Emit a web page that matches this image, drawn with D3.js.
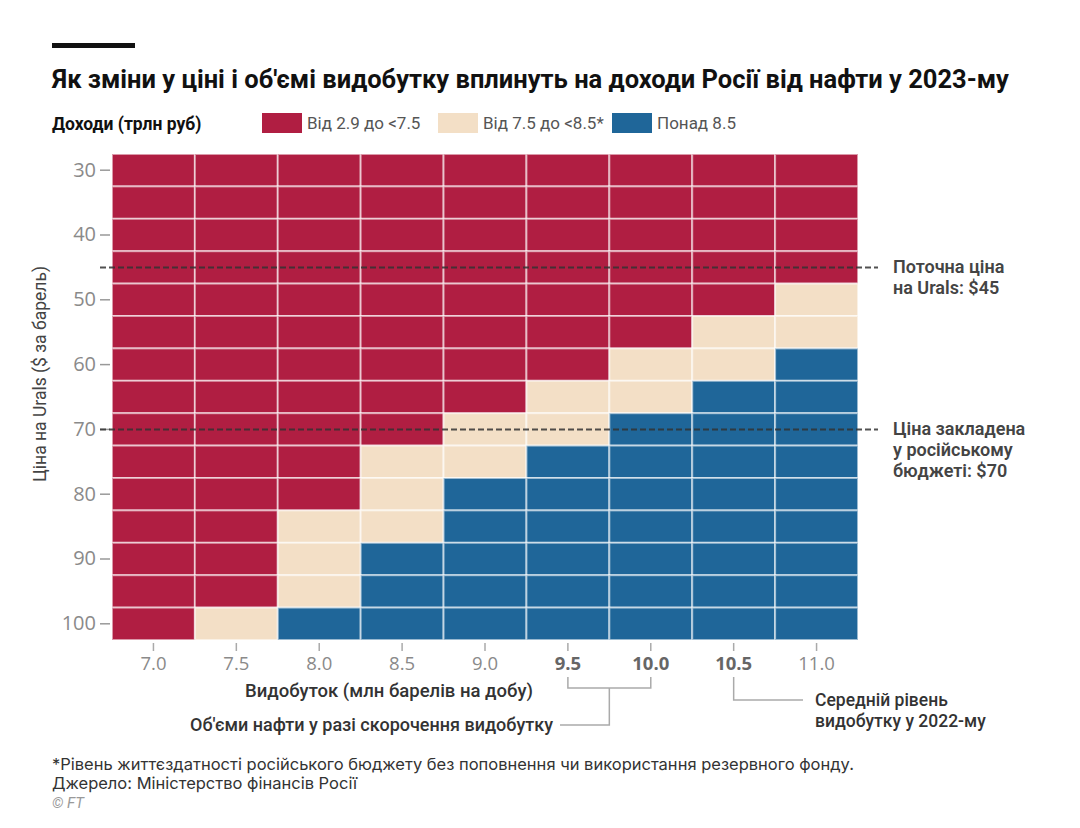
<!DOCTYPE html>
<html>
<head>
<meta charset="utf-8">
<script src="https://cdn.jsdelivr.net/npm/d3@7"></script>
<style>
  body { margin: 0; background: #fff; }
  svg { font-family: "Roboto", "Noto Sans", sans-serif; }
</style>
</head>
<body>
<div id="chart"></div>
<script>
// Volumes (mln barrels per day) and Urals price ($ per barrel)
const volumes = ["7.0", "7.5", "8.0", "8.5", "9.0", "9.5", "10.0", "10.5", "11.0"];
const prices = [30, 35, 40, 45, 50, 55, 60, 65, 70, 75, 80, 85, 90, 95, 100];
const priceTicks = [30, 40, 50, 60, 70, 80, 90, 100];
const boldVolumes = ["9.5", "10.0", "10.5"];

// Revenue bands (trillion rub)
const bandLabels = ["Від 2.9 до <7.5", "Від 7.5 до <8.5*", "Понад 8.5"];
const bandColors = ["#b01e42", "#f3dfc6", "#1f6699"];

// one row per price, one value per volume: index into bandLabels
const revenueBand = [
  [0, 0, 0, 0, 0, 0, 0, 0, 0], // 30
  [0, 0, 0, 0, 0, 0, 0, 0, 0], // 35
  [0, 0, 0, 0, 0, 0, 0, 0, 0], // 40
  [0, 0, 0, 0, 0, 0, 0, 0, 0], // 45
  [0, 0, 0, 0, 0, 0, 0, 0, 1], // 50
  [0, 0, 0, 0, 0, 0, 0, 1, 1], // 55
  [0, 0, 0, 0, 0, 0, 1, 1, 2], // 60
  [0, 0, 0, 0, 0, 1, 1, 2, 2], // 65
  [0, 0, 0, 0, 1, 1, 2, 2, 2], // 70
  [0, 0, 0, 1, 1, 2, 2, 2, 2], // 75
  [0, 0, 0, 1, 2, 2, 2, 2, 2], // 80
  [0, 0, 1, 1, 2, 2, 2, 2, 2], // 85
  [0, 0, 1, 2, 2, 2, 2, 2, 2], // 90
  [0, 0, 1, 2, 2, 2, 2, 2, 2], // 95
  [0, 1, 2, 2, 2, 2, 2, 2, 2]  // 100
];

// reference prices
const refPrices = [
  {price: 45, lines: ["Поточна ціна", "на Urals: $45"]},
  {price: 70, lines: ["Ціна закладена", "у російському", "бюджеті: $70"]}
];

const W = 1080, H = 828;
const svg = d3.select("#chart").append("svg")
  .attr("width", W).attr("height", H);

// top bar and title
svg.append("rect").attr("x", 52).attr("y", 43).attr("width", 83).attr("height", 5).attr("fill", "#111");
svg.append("text")
  .attr("x", 52).attr("y", 88)
  .style("font-size", "25.5px").style("font-weight", 700).attr("fill", "#111")
  .text("Як зміни у ціні і об'ємі видобутку вплинуть на доходи Росії від нафти у 2023-му");

// legend
svg.append("text")
  .attr("x", 52).attr("y", 130)
  .style("font-size", "17.5px").style("font-weight", 700).attr("fill", "#111")
  .text("Доходи (трлн руб)");
const legendX = [262, 438, 612];
bandLabels.forEach((label, i) => {
  svg.append("rect").attr("x", legendX[i]).attr("y", 113).attr("width", 40).attr("height", 20)
    .attr("fill", bandColors[i]);
  svg.append("text").attr("x", legendX[i] + 45).attr("y", 129)
    .style("font-size", "17px").attr("fill", "#555").text(label);
});

// scales
const x = d3.scaleBand().domain(volumes).range([112, 858]);
const y = d3.scaleBand().domain(prices).range([154, 640]);

// cells
const cells = [];
prices.forEach((p, i) => volumes.forEach((v, j) => cells.push({price: p, volume: v, band: revenueBand[i][j]})));

svg.append("g").selectAll("rect")
  .data(cells)
  .enter()
  .append("rect")
  .attr("x", d => x(d.volume))
  .attr("y", d => y(d.price))
  .attr("width", x.bandwidth())
  .attr("height", y.bandwidth())
  .attr("fill", d => bandColors[d.band])
  .attr("stroke", "rgba(255,255,255,0.55)")
  .attr("stroke-width", 2);

// Y axis
const yAxis = svg.append("g")
  .attr("transform", "translate(110,0)")
  .call(d3.axisLeft(y).tickValues(priceTicks).tickSize(10).tickPadding(4));
yAxis.select(".domain").remove();
yAxis.selectAll("line").attr("stroke", "#999").attr("stroke-width", 1.5);
yAxis.selectAll("text")
  .style("font-family", "'Open Sans', sans-serif")
  .style("font-size", "20px").attr("fill", "#8a8a8a");

// X axis
const xAxis = svg.append("g")
  .attr("transform", "translate(0,643)")
  .call(d3.axisBottom(x).tickSize(8).tickPadding(6));
xAxis.select(".domain").remove();
xAxis.selectAll("line").attr("stroke", "#aaa").attr("stroke-width", 1.5);
xAxis.selectAll("text")
  .style("font-family", "'Open Sans', sans-serif")
  .style("font-size", "18.5px")
  .style("font-weight", d => boldVolumes.includes(d) ? 700 : 400)
  .attr("fill", d => boldVolumes.includes(d) ? "#666" : "#8a8a8a");

// axis titles
svg.append("text")
  .attr("transform", "translate(46,374) rotate(-90)")
  .attr("text-anchor", "middle")
  .style("font-size", "17.5px").attr("fill", "#444")
  .text("Ціна на Urals ($ за барель)");
svg.append("text")
  .attr("x", 389).attr("y", 697)
  .attr("text-anchor", "middle")
  .style("font-size", "18.5px").style("font-weight", 500).attr("fill", "#333")
  .text("Видобуток (млн барелів на добу)");

// reference price lines
refPrices.forEach(r => {
  const yy = y(r.price) + y.bandwidth() / 2;
  svg.append("line")
    .attr("x1", 100).attr("x2", 878).attr("y1", yy).attr("y2", yy)
    .attr("stroke", "#333").attr("stroke-opacity", 0.85)
    .attr("stroke-width", 2).attr("stroke-dasharray", "6,3");
  const t = svg.append("text")
    .attr("x", 893).attr("y", yy + 6)
    .style("font-size", "18px").style("font-weight", 600).attr("fill", "#444");
  r.lines.forEach((line, k) => {
    t.append("tspan").attr("x", 893).attr("dy", k === 0 ? 0 : 21).text(line);
  });
});

// brackets under x axis
const cx = v => x(v) + x.bandwidth() / 2;
const bracket = d3.path();
bracket.moveTo(cx("9.5"), 677);
bracket.lineTo(cx("9.5"), 688);
bracket.lineTo(cx("10.0"), 688);
bracket.lineTo(cx("10.0"), 677);
const mid = (cx("9.5") + cx("10.0")) / 2;
bracket.moveTo(mid, 688);
bracket.lineTo(mid, 725);
bracket.lineTo(560, 725);
bracket.moveTo(cx("10.5"), 677);
bracket.lineTo(cx("10.5"), 700);
bracket.lineTo(803, 700);
svg.append("path").attr("d", bracket.toString())
  .attr("fill", "none").attr("stroke", "#aaa").attr("stroke-width", 1.5);

svg.append("text")
  .attr("x", 553).attr("y", 731).attr("text-anchor", "end")
  .style("font-size", "18px").style("font-weight", 500).attr("fill", "#333")
  .text("Об'єми нафти у разі скорочення видобутку");
const avg = svg.append("text")
  .attr("x", 815).attr("y", 706)
  .style("font-size", "17.5px").style("font-weight", 500).attr("fill", "#333");
avg.append("tspan").attr("x", 815).attr("dy", 0).text("Середній рівень");
avg.append("tspan").attr("x", 815).attr("dy", 21).text("видобутку у 2022-му");

// footer
const foot = svg.append("text").attr("x", 52).attr("y", 770)
  .style("font-family", "'Inter', sans-serif")
  .style("font-size", "16.5px").attr("fill", "#333");
foot.append("tspan").attr("x", 52).attr("dy", 0)
  .text("*Рівень життєздатності російського бюджету без поповнення чи використання резервного фонду.");
foot.append("tspan").attr("x", 52).attr("dy", 19).text("Джерело: Міністерство фінансів Росії");
svg.append("text").attr("x", 52).attr("y", 808)
  .style("font-size", "15px").style("font-style", "italic").attr("fill", "#999")
  .text("© FT");
</script>
</body>
</html>
